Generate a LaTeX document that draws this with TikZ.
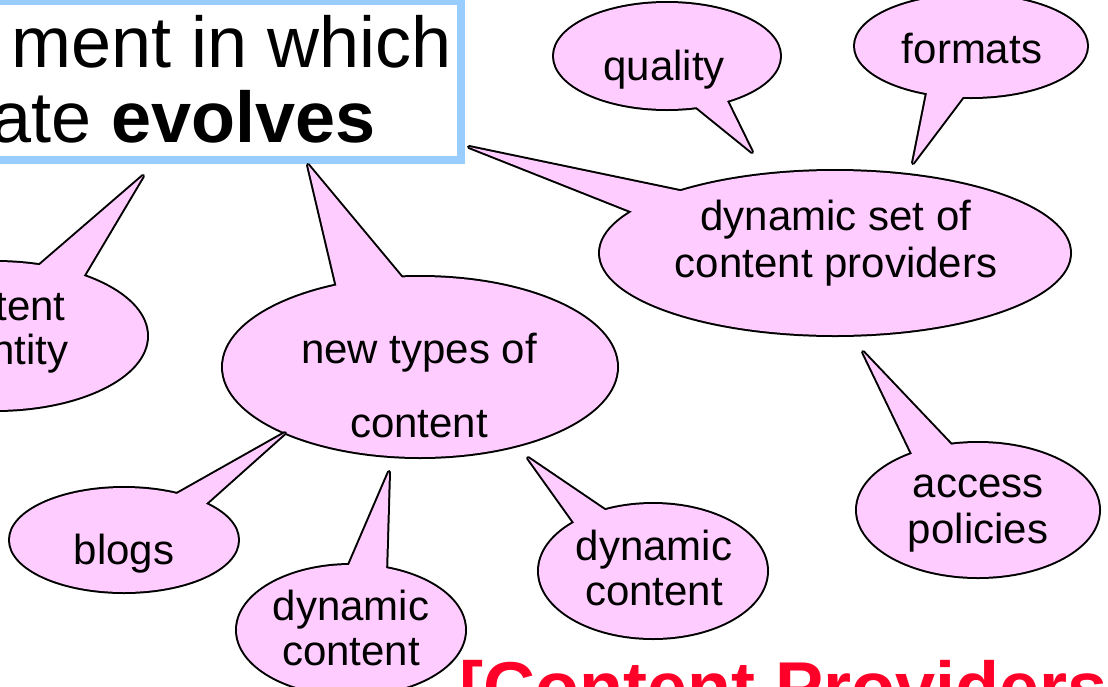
\documentclass[tikz,border=0pt]{standalone}
\usepackage{fontspec}
\setmainfont{Liberation Sans}
\usetikzlibrary{shapes.geometric}
\definecolor{bubpink}{RGB}{255,204,255}
\definecolor{boxblue}{RGB}{153,204,255}
\definecolor{titlered}{RGB}{255,0,40}
% #1 name, #2 cx, #3 cy, #4 rx, #5 ry (px), #6 tip, #7 #8 tail base points
\newcommand\bub[8]{%
  \node[bubnode, minimum width=#4pt, minimum height=#5pt] (#1) at (#2,#3) {};
  \coordinate (#1-tip) at (#6);
  \coordinate (#1-ba) at (#7);
  \coordinate (#1-bb) at (#8);
  \draw[bubline] (#1.center) ellipse [x radius=#4*0.5pt, y radius=#5*0.5pt];
  \draw[bubline] (#1-ba) -- (#1-tip) -- (#1-bb) -- cycle;
  \fill[bubpink] (#1.center) ellipse [x radius=#4*0.5pt, y radius=#5*0.5pt];
  \fill[bubpink] (#1-ba) -- (#1-tip) -- (#1-bb) -- cycle;
}
\tikzset{
  bubnode/.style={ellipse, inner sep=0pt, outer sep=0pt},
  bubline/.style={line width=2pt, line join=round, draw=black},
  lbl/.style={anchor=base, inner sep=0pt, font=\fontsize{21}{25}\selectfont},
  big/.style={inner sep=0pt, font=\fontsize{36}{43}\selectfont},
}
\begin{document}
\begin{tikzpicture}[x=0.5pt,y=-0.5pt]
\useasboundingbox (0,0) rectangle (1108,686);
\clip (0,0) rectangle (1108,686);
\fill[white] (0,0) rectangle (1108,686);
% title box
\draw[draw=boxblue, line width=4pt, fill=white] (-30,1) rectangle (461,160);
\node[big, anchor=base east] (t1) at (452,67) {ment in which};
\node[big, anchor=base east] (t2) at (376,142) {ate \textbf{evolves}};
% bubbles
\bub{qual}{667}{56}{113}{53}{752,152}{689,101}{725,97}
\bub{form}{971}{46}{116}{51}{913,163}{928,88}{968,90}
\bub{dset}{835}{253}{235}{82}{469,147}{694,194}{638,214}
\bub{cq}{-5}{336}{152}{74}{143,176}{34,270}{80,282}
\bub{ntc}{420}{367}{197}{90}{308,165}{338,292}{408,285}
\bub{blog}{124}{540}{114}{52}{285,433}{168,499}{201,508}
\bub{dca}{351}{630}{114}{65}{389,472}{346,572}{386,574}
\bub{dcb}{653}{571}{114}{67}{528,458}{578,528}{612,515}
\bub{acc}{978}{510}{121}{67}{863,352}{915,460}{957,451}
% labels
\node[lbl] (lq) at (664,80) {quality};
\node[lbl] (lf) at (972,63) {formats};
\node[lbl] (ld1) at (836,230) {dynamic set of};
\node[lbl] (ld2) at (836,277) {content providers};
\node[lbl, anchor=base east] (lc1) at (66,320) {tent};
\node[lbl, anchor=base east] (lc2) at (69,364) {ntity};
\node[lbl] (ln1) at (419,363) {new types of};
\node[lbl] (ln2) at (419,437) {content};
\node[lbl] (lb) at (124,564) {blogs};
\node[lbl] (la1) at (351,620) {dynamic};
\node[lbl] (la2) at (351,665) {content};
\node[lbl] (lb1) at (654,560) {dynamic};
\node[lbl] (lb2) at (654,605) {content};
\node[lbl] (lp1) at (978,497) {access};
\node[lbl] (lp2) at (978,543) {policies};
% red heading
\node[big, anchor=base west, text=titlered, font=\fontsize{36}{43}\selectfont\bfseries] (red) at (459,712) {[Content Providers};
\end{tikzpicture}
\end{document}
